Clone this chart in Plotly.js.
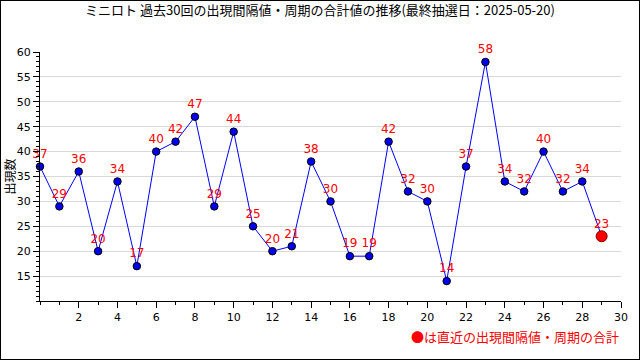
<!DOCTYPE html>
<html><head><meta charset="utf-8">
<script src="https://cdn.plot.ly/plotly-3.0.1.min.js"></script>
<style>
html,body{margin:0;padding:0;background:#fff;}
#wrap{width:638px;height:358px;border:1px solid #000;position:relative;}
#chart{width:638px;height:358px;}
</style></head>
<body><div id="wrap"><div id="chart"></div></div>
<script>
const draws = [0,1,2,3,4,5,6,7,8,9,10,11,12,13,14,15,16,17,18,19,20,21,22,23,24,25,26,27,28,29];
const totals = [37,29,36,20,34,17,40,42,47,29,44,25,20,21,38,30,19,19,42,32,30,14,37,58,34,32,40,32,34,23];
const xTicks = [2,4,6,8,10,12,14,16,18,20,22,24,26,28,30];
const yTicks = [15,20,25,30,35,40,45,50,55,60];
const titleText = 'ミニロト 過去30回の出現間隔値・周期の合計値の推移(最終抽選日：2025-05-20)';
const yTitle = '出現数';
const noteText = '●は直近の出現間隔値・周期の合計';

const n = totals.length;
const lastX = [draws[n-1]];
const lastY = [totals[n-1]];

const jp = '"Noto Sans CJK JP", "DejaVu Sans", sans-serif';
const traces = [
  {x: draws, y: totals, type:'scatter', mode:'lines+markers+text',
   line:{color:'#0000ff', width:1},
   marker:{color:'#0000ee', size:7.5, line:{color:'#000', width:1}},
   text: totals.map(String), textposition:'top center',
   textfont:{color:'#ff0000', size:12, family:'DejaVu Sans, sans-serif'},
   cliponaxis:false, hoverinfo:'none'},
  {x: lastX, y: lastY, type:'scatter', mode:'markers',
   marker:{color:'#ff0000', size:11, line:{color:'#800000', width:1}},
   cliponaxis:false, hoverinfo:'none'}
];
const layout = {
  width:638, height:358,
  margin:{l:39, r:18, t:51, b:58},
  paper_bgcolor:'#fff', plot_bgcolor:'#fff',
  showlegend:false,
  title:{text:titleText, x:0.5, xanchor:'center', y:0.985, yanchor:'top',
         font:{family:jp, size:13, color:'#000'}},
  xaxis:{range:[0,30], tickvals:xTicks, ticktext:xTicks.map(String),
         ticks:'outside', ticklen:6, tickcolor:'#000', showgrid:false,
         showline:true, linecolor:'#000', linewidth:1, zeroline:false,
         tickfont:{family:'DejaVu Sans, sans-serif', size:11, color:'#000'},
         minor:{dtick:1, ticks:'outside', ticklen:3, tickcolor:'#000', showgrid:false}},
  yaxis:{range:[10,60], tickvals:yTicks, ticktext:yTicks.map(String),
         ticks:'outside', ticklen:6, tickcolor:'#000',
         showgrid:true, gridcolor:'#d9d9d9', gridwidth:1,
         showline:true, linecolor:'#000', linewidth:1, zeroline:false,
         tickfont:{family:'DejaVu Sans, sans-serif', size:11, color:'#000'},
         title:{text:yTitle, standoff:5, font:{family:jp, size:12, color:'#000'}},
         minor:{dtick:1, ticks:'outside', ticklen:3, tickcolor:'#000', showgrid:false}},
  annotations:[{text:noteText, xref:'paper', yref:'paper', x:1, y:0, xanchor:'right', yanchor:'top',
                yshift:-24, showarrow:false, font:{family:jp, size:13, color:'#ff0000'}}]
};
Plotly.newPlot('chart', traces, layout, {staticPlot:true, displayModeBar:false});
</script></body></html>
